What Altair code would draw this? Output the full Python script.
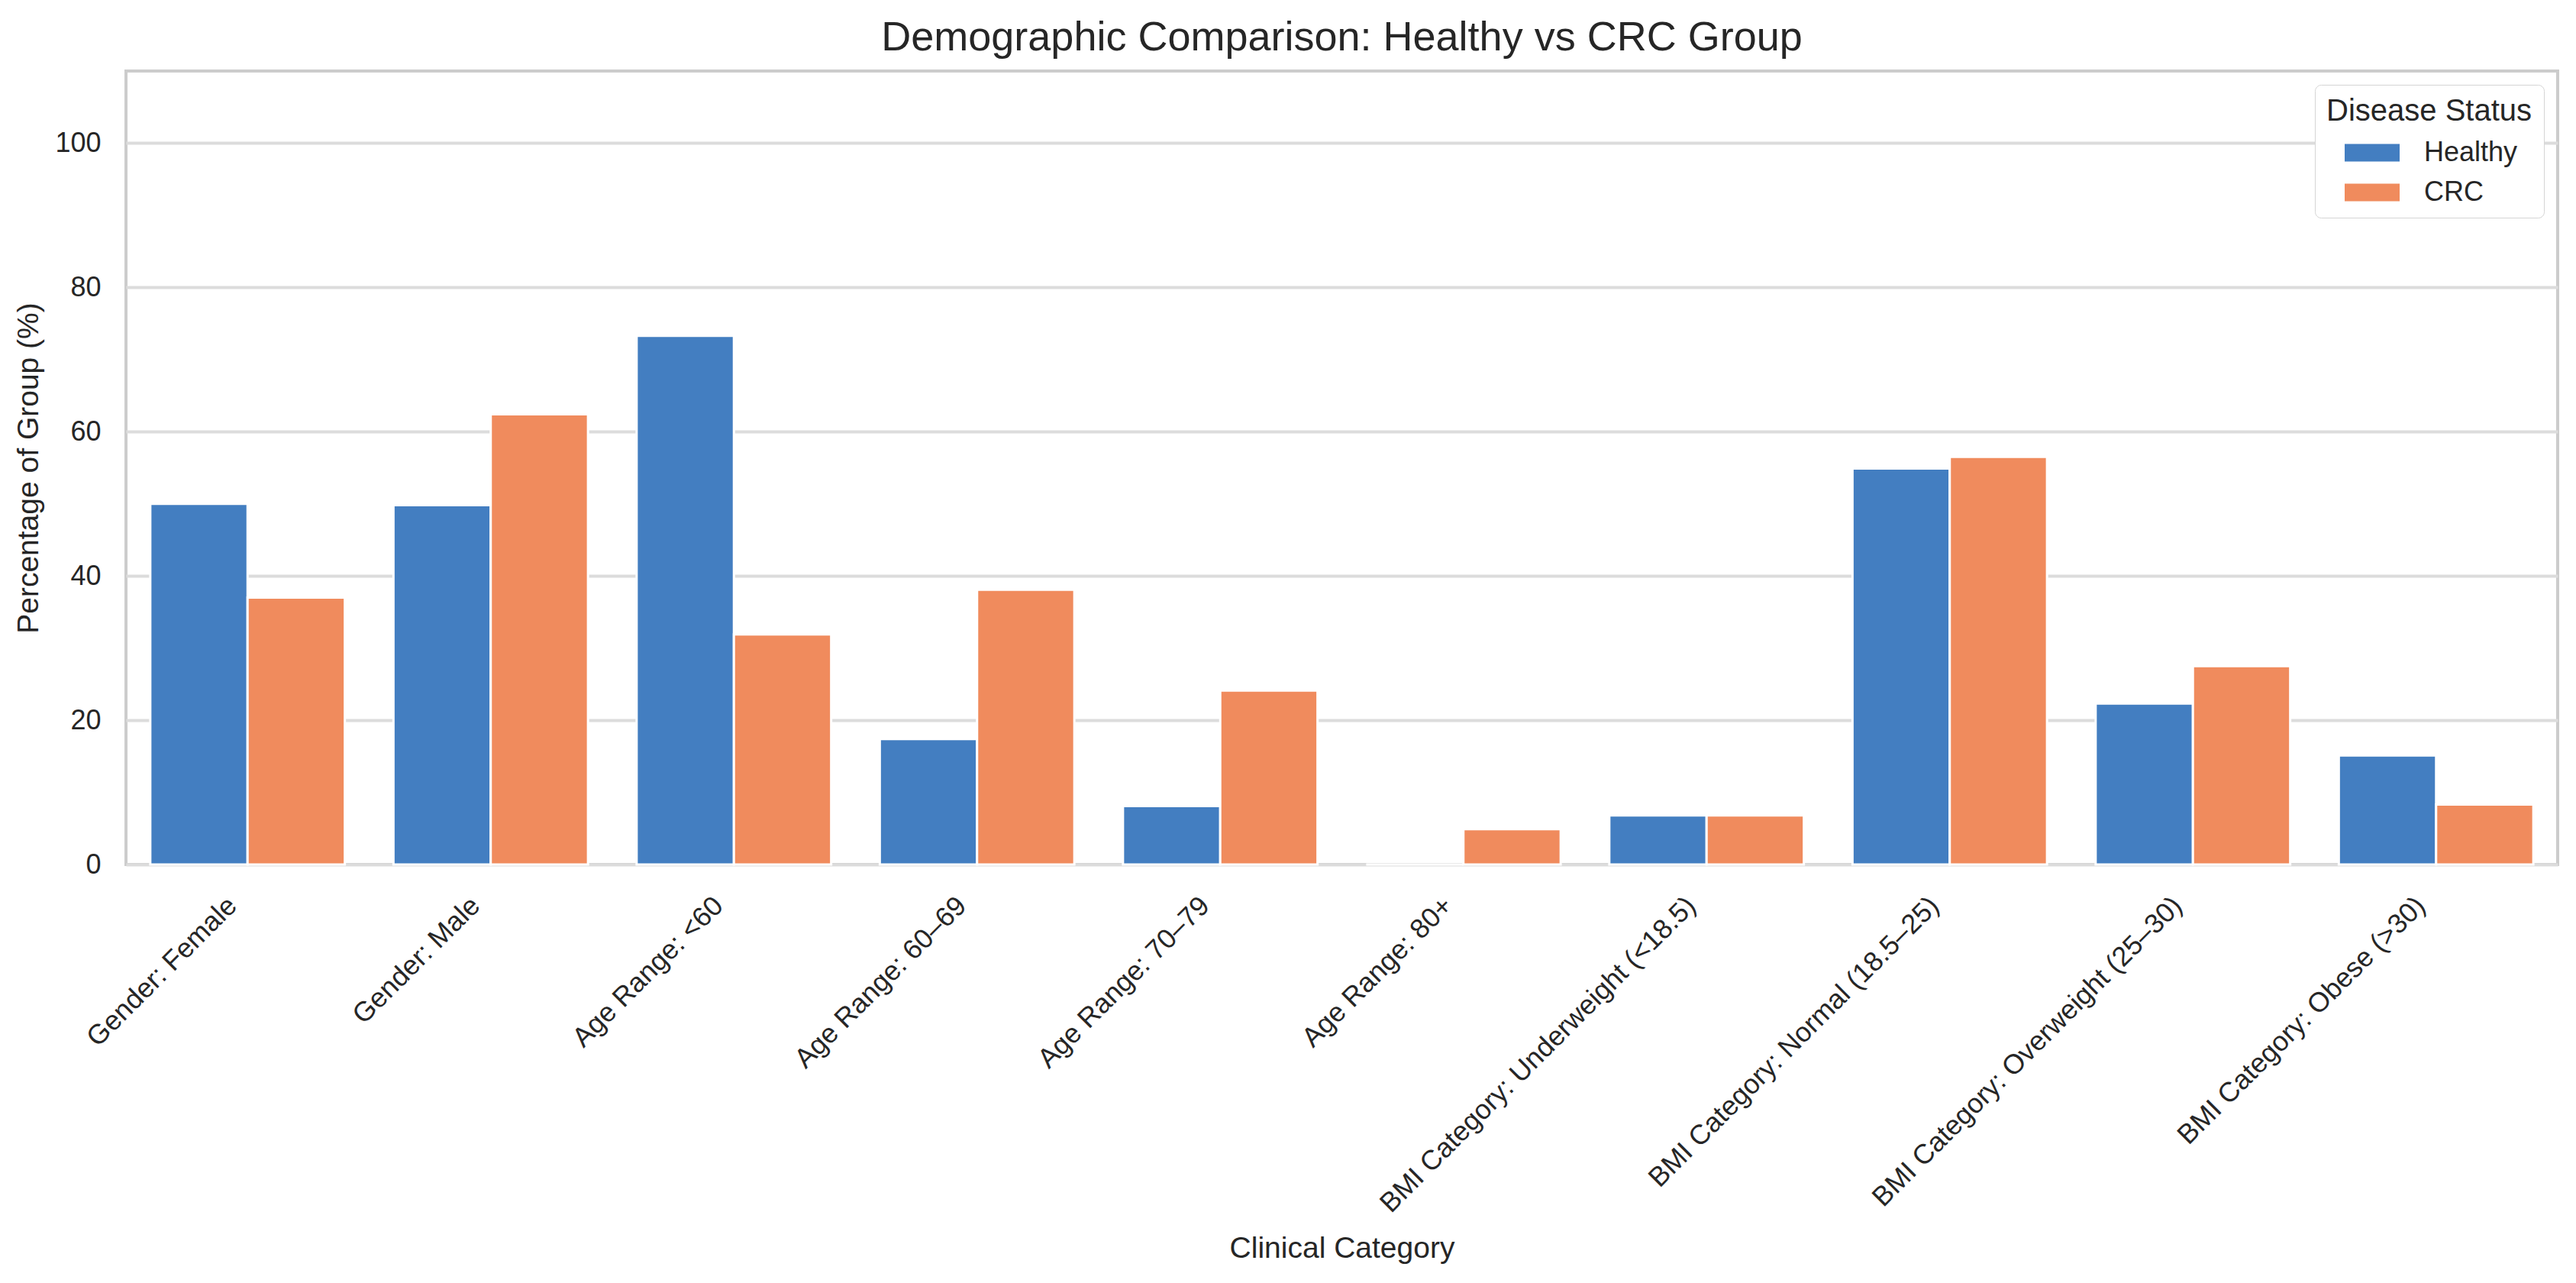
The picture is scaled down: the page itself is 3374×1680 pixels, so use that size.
import altair as alt
import pandas as pd

categories = [
    "Gender: Female", "Gender: Male", "Age Range: <60", "Age Range: 60–69",
    "Age Range: 70–79", "Age Range: 80+", "BMI Category: Underweight (<18.5)",
    "BMI Category: Normal (18.5–25)", "BMI Category: Overweight (25–30)",
    "BMI Category: Obese (>30)",
]
healthy = [50.0, 49.8, 73.3, 17.4, 8.1, 0.0, 6.8, 54.9, 22.3, 15.1]
crc = [37.0, 62.4, 31.9, 38.1, 24.1, 4.9, 6.8, 56.5, 27.5, 8.3]
groups = ["Healthy", "CRC"]
colors = ["#437EC1", "#F08B5D"]
y_ticks = [0, 20, 40, 60, 80, 100]

rows = []
for c, h, r in zip(categories, healthy, crc):
    rows.append({"Clinical Category": c, "Disease Status": "Healthy", "Percentage": h})
    rows.append({"Clinical Category": c, "Disease Status": "CRC", "Percentage": r})
df = pd.DataFrame(rows)

FONT = "Liberation Sans"
TXT = "#262626"

chart = alt.Chart(df).mark_bar(stroke="white", strokeWidth=3).encode(
    x=alt.X(
        "Clinical Category:N",
        sort=categories,
        scale=alt.Scale(paddingInner=0.2, paddingOuter=0.1),
        axis=alt.Axis(
            title="Clinical Category",
            labelAngle=-45,
            labelAlign="right",
            labelBaseline="top",
            labelPadding=36,
            labelOffset=-32,
            labelFontSize=36,
            labelLimit=1200,
            ticks=False,
            domain=False,
            grid=False,
            titleFontSize=39,
            titleFontWeight="normal",
            titleY=514,
            titleBaseline="alphabetic",
        ),
    ),
    xOffset=alt.XOffset("Disease Status:N", sort=groups,
                        scale=alt.Scale(paddingInner=0, paddingOuter=0)),
    y=alt.Y(
        "Percentage:Q",
        scale=alt.Scale(domain=[0, 110], nice=False),
        axis=alt.Axis(
            title="Percentage of Group (%)",
            values=y_ticks,
            labelFontSize=36,
            labelPadding=33,
            ticks=False,
            domain=False,
            grid=True,
            gridColor="#dcdcdc",
            gridWidth=4,
            titleFontSize=39,
            titleFontWeight="normal",
            titleX=-116,
            titleBaseline="alphabetic",
        ),
    ),
    color=alt.Color(
        "Disease Status:N",
        sort=groups,
        scale=alt.Scale(domain=groups, range=colors),
        legend=alt.Legend(
            title="Disease Status",
            orient="top-right",
            offset=18,
            padding=15,
            fillColor="white",
            strokeColor="#d5d5d5",
            cornerRadius=8,
            titleFontSize=40,
            titleFontWeight="normal",
            titleColor=TXT,
            titlePadding=16,
            titleLimit=1000,
            labelFontSize=36,
            labelColor=TXT,
            labelLimit=1000,
            symbolType="M-2,-0.64H2V0.64H-2Z",
            symbolSize=1296,
            symbolStrokeWidth=0,
            symbolOffset=42,
            labelOffset=50,
            rowPadding=16,
        ),
    ),
).properties(
    width=3185,
    height=1039,
    title=alt.TitleParams(
        "Demographic Comparison: Healthy vs CRC Group",
        fontSize=54,
        fontWeight="normal",
        color=TXT,
        font=FONT,
        anchor="middle",
        baseline="alphabetic",
        offset=18,
        dy=45,
    ),
    autosize=alt.AutoSizeParams(type="none"),
    padding={"left": 157, "top": 85, "right": 16, "bottom": 540},
).configure(
    font=FONT,
).configure_axis(
    labelColor=TXT,
    titleColor=TXT,
    labelFont=FONT,
    titleFont=FONT,
).configure_view(
    stroke="#cccccc",
    strokeWidth=4,
)

chart.save("out.html", embed_options={"renderer": "svg", "actions": False})
